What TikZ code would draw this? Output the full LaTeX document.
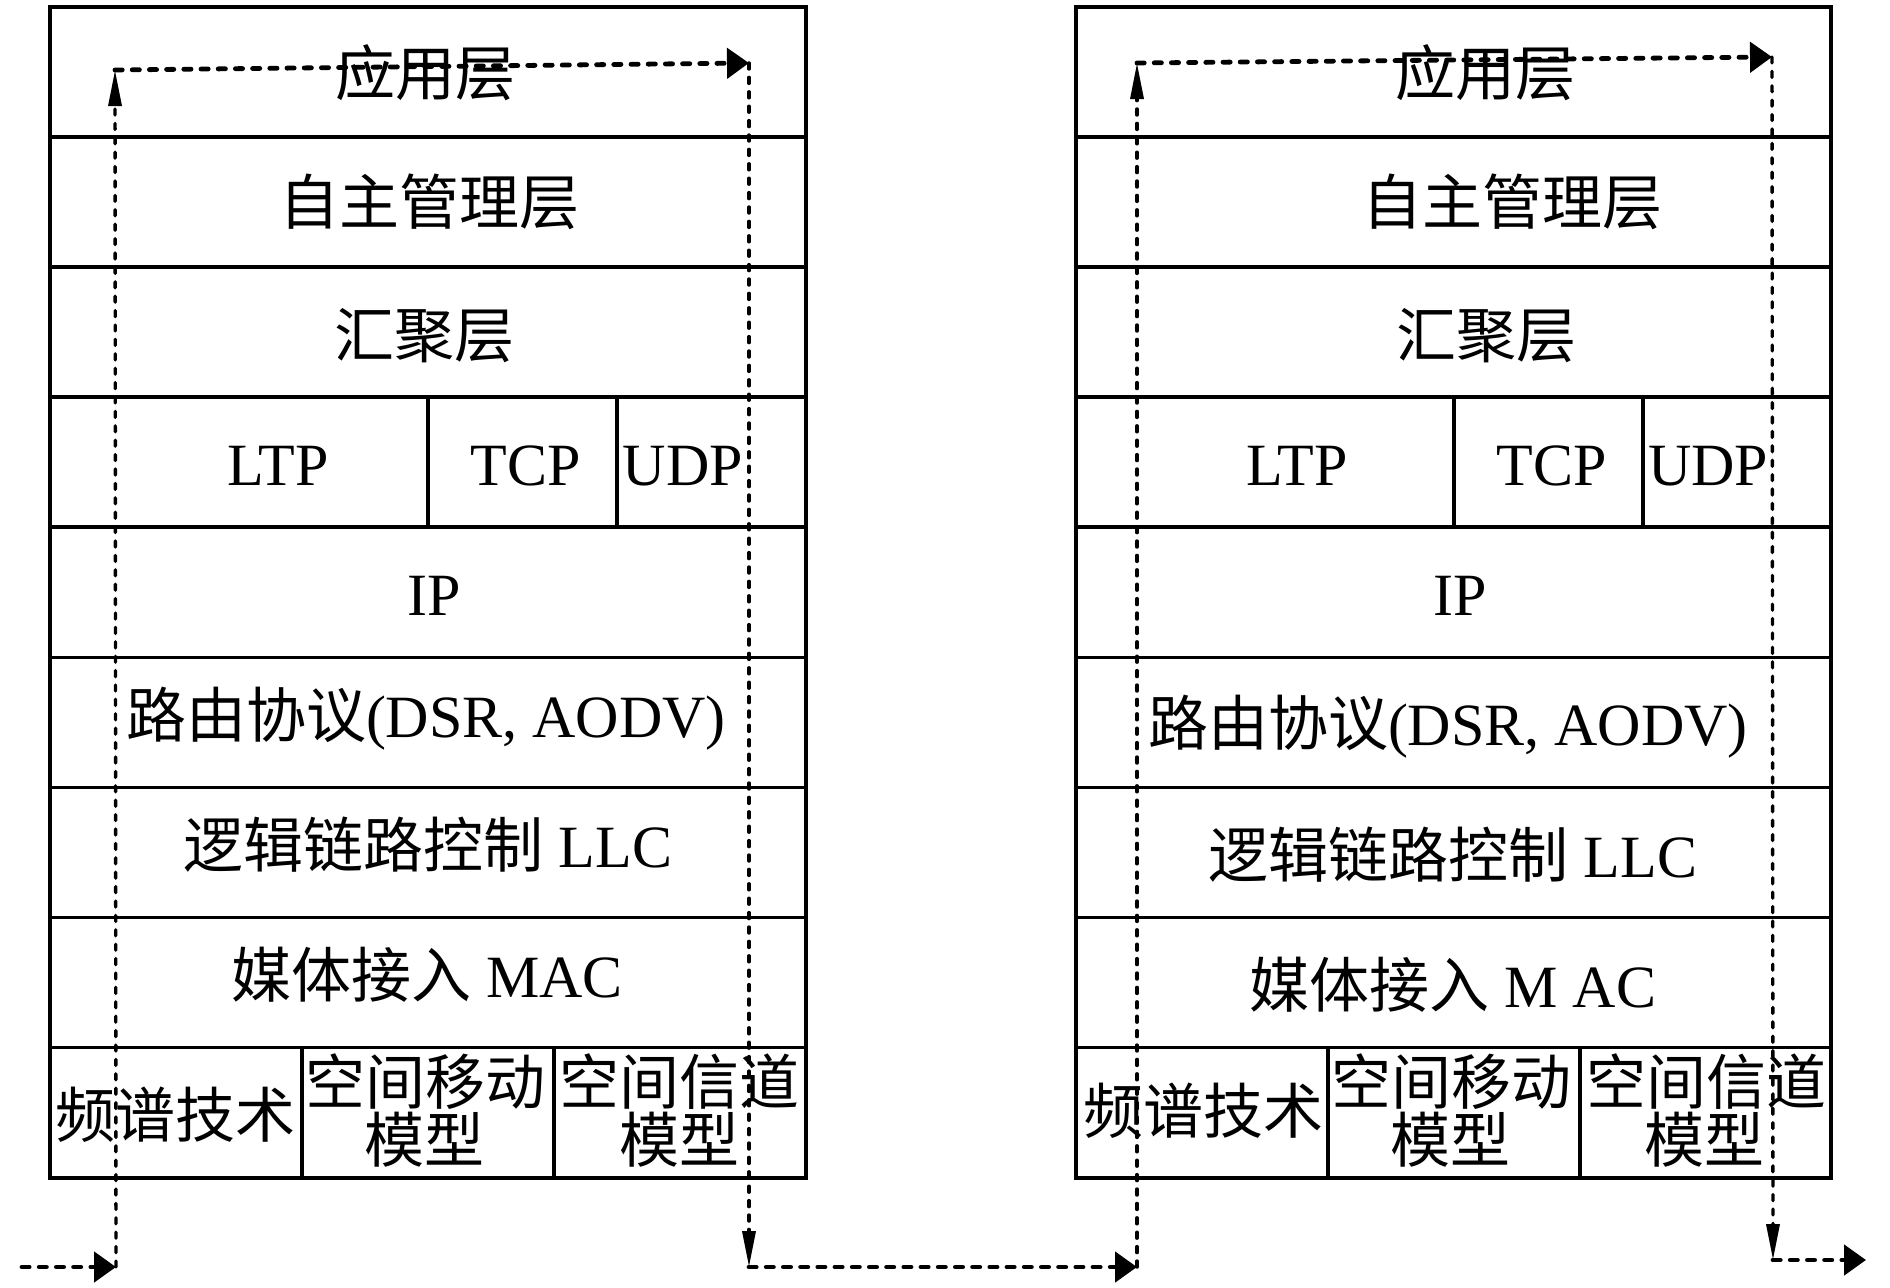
\documentclass[tikz,border=0pt]{standalone}
\usepackage{fontspec}
\setmainfont{Liberation Serif}
\newfontfamily\cjk{Noto Sans CJK SC}
\usetikzlibrary{arrows.meta}
\tikzset{
 cell/.style={draw, line width=1.8pt, inner sep=0pt, anchor=north west, minimum height=65.05pt},
 txt/.style={inner sep=0pt, anchor=base, font=\fontsize{30pt}{36pt}\selectfont},
 vline/.style={line width=1.7pt, dash pattern=on 3pt off 4.2pt, line cap=round},
 hline/.style={line width=2.4pt, dash pattern=on 3.6pt off 5pt, line cap=round},
 htip/.style={-{Triangle[length=11pt,width=15pt]}},
 vtip/.style={-{Triangle[length=18pt,width=6.5pt]}},
}
\begin{document}
\begin{tikzpicture}[x=0.5pt,y=-0.5pt]
\useasboundingbox (0,0) rectangle (1890,1287);
% ---------- left stack ----------
\node[cell, minimum width=378pt] (LA) at (48,5) {};
\node[cell, minimum width=378pt] (LB) at (48,135.1) {};
\node[cell, minimum width=378pt] (LC) at (48,265.2) {};
\node[cell, minimum width=189pt] (LLTP) at (48,395.3) {};
\node[cell, minimum width=94.5pt] (LTCP) at (426,395.3) {};
\node[cell, minimum width=94.5pt] (LUDP) at (615,395.3) {};
\node[cell, minimum width=378pt] (LIP) at (48,525.4) {};
\node[cell, minimum width=378pt] (LR) at (48,655.5) {};
\node[cell, minimum width=378pt] (LL) at (48,785.6) {};
\node[cell, minimum width=378pt] (LM) at (48,915.7) {};
\node[cell, minimum width=126pt] (LF) at (48,1045.8) {};
\node[cell, minimum width=126pt] (LS) at (300,1045.8) {};
\node[cell, minimum width=126pt] (LK) at (552,1045.8) {};
% ---------- right stack ----------
\node[cell, minimum width=377.5pt] (RA) at (1074,5) {};
\node[cell, minimum width=377.5pt] (RB) at (1074,135.1) {};
\node[cell, minimum width=377.5pt] (RC) at (1074,265.2) {};
\node[cell, minimum width=189pt] (RLTP) at (1074,395.3) {};
\node[cell, minimum width=94.5pt] (RTCP) at (1452,395.3) {};
\node[cell, minimum width=94pt] (RUDP) at (1641,395.3) {};
\node[cell, minimum width=377.5pt] (RIP) at (1074,525.4) {};
\node[cell, minimum width=377.5pt] (RR) at (1074,655.5) {};
\node[cell, minimum width=377.5pt] (RL) at (1074,785.6) {};
\node[cell, minimum width=377.5pt] (RM) at (1074,915.7) {};
\node[cell, minimum width=126pt] (RF) at (1074,1045.8) {};
\node[cell, minimum width=126pt] (RS) at (1326,1045.8) {};
\node[cell, minimum width=125.5pt] (RK) at (1578,1045.8) {};
% ---------- left texts ----------
\node[txt] (tLA) at (425,95) {\cjk 应用层};
\node[txt] (tLB) at (429,224) {\cjk 自主管理层};
\node[txt] (tLC) at (424,357) {\cjk 汇聚层};
\node[txt] (tLLTP) at (278,485) {LTP};
\node[txt] (tLTCP) at (526,485) {TCP};
\node[txt] (tLUDP) at (683,485) {UDP};
\node[txt] (tLIP) at (434,615) {IP};
\node[txt] (tLR) at (426,737) {{\cjk 路由协议}(DSR, AODV)};
\node[txt] (tLL) at (428,867) {{\cjk 逻辑链路控制} LLC};
\node[txt] (tLM) at (427,997) {{\cjk 媒体接入} MAC};
\node[txt] (tLF) at (175,1137) {\cjk 频谱技术};
\node[txt] (tLS1) at (425,1104) {\cjk 空间移动};
\node[txt] (tLS2) at (424,1162) {\cjk 模型};
\node[txt] (tLK1) at (679,1104) {\cjk 空间信道};
\node[txt] (tLK2) at (679,1162) {\cjk 模型};
% ---------- right texts ----------
\node[txt] (tRA) at (1485,95) {\cjk 应用层};
\node[txt] (tRB) at (1512,224) {\cjk 自主管理层};
\node[txt] (tRC) at (1486,357) {\cjk 汇聚层};
\node[txt] (tRLTP) at (1297,485) {LTP};
\node[txt] (tRTCP) at (1552,485) {TCP};
\node[txt] (tRUDP) at (1708,485) {UDP};
\node[txt] (tRIP) at (1460,615) {IP};
\node[txt] (tRR) at (1448,745) {{\cjk 路由协议}(DSR, AODV)};
\node[txt] (tRL) at (1453,877) {{\cjk 逻辑链路控制} LLC};
\node[txt] (tRM) at (1453,1007) {{\cjk 媒体接入} M AC};
\node[txt] (tRF) at (1203,1133) {\cjk 频谱技术};
\node[txt] (tRS1) at (1451,1104) {\cjk 空间移动};
\node[txt] (tRS2) at (1450,1162) {\cjk 模型};
\node[txt] (tRK1) at (1706,1104) {\cjk 空间信道};
\node[txt] (tRK2) at (1704,1162) {\cjk 模型};
% ---------- data path ----------
\coordinate (s0) at (22,1267);
\coordinate (a1) at (116,1267);
\coordinate (a2) at (115,70);
\coordinate (a3) at (749,63);
\coordinate (a4) at (749,1267);
\coordinate (b1) at (1137,1267);
\coordinate (b2) at (1137,63);
\coordinate (b3) at (1772,57);
\coordinate (b4) at (1773,1260);
\coordinate (e0) at (1866,1260);
\draw[hline,htip] (s0) -- (a1);
\draw[vline,vtip] (a1) -- (a2);
\draw[hline,htip] (a2) -- (a3);
\draw[vline,vtip] (a3) -- (a4);
\draw[hline,htip] (a4) -- (b1);
\draw[vline,vtip] (b1) -- (b2);
\draw[hline,htip] (b2) -- (b3);
\draw[vline,vtip] (b3) -- (b4);
\draw[hline,htip] (b4) -- (e0);
\end{tikzpicture}
\end{document}
